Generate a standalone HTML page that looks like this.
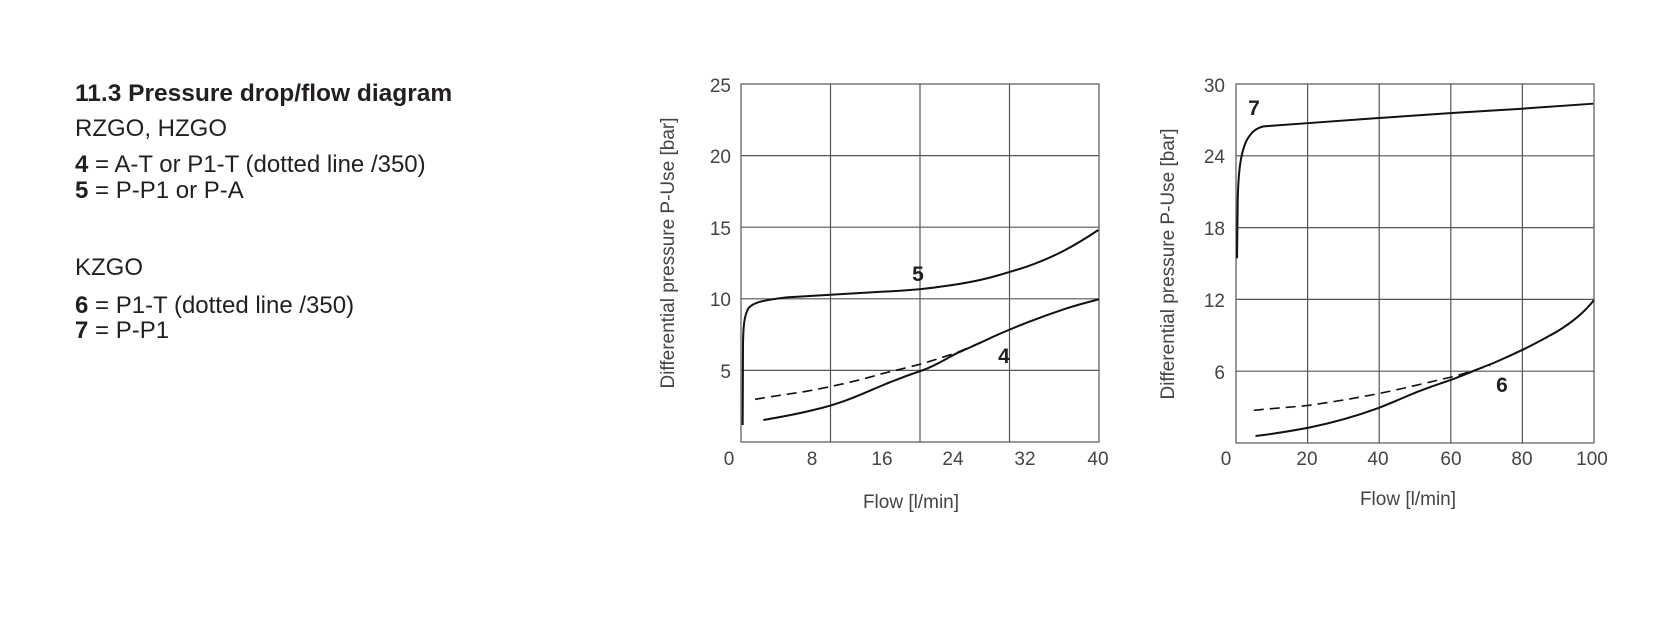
<!DOCTYPE html>
<html><head><meta charset="utf-8"><style>
html,body{margin:0;padding:0;background:#fff;}
body{width:1668px;height:635px;overflow:hidden;position:relative;font-family:"Liberation Sans",sans-serif;color:#231f20;}
.t{position:absolute;left:75px;font-size:24px;white-space:nowrap;line-height:1;}
</style></head><body>
<div class="t" style="top:82px;font-weight:bold;font-size:24.5px;">11.3 Pressure drop/flow diagram</div>
<div class="t" style="top:117px;">RZGO, HZGO</div>
<div class="t" style="top:153px;"><b>4</b> = A-T or P1-T (dotted line /350)</div>
<div class="t" style="top:179px;"><b>5</b> = P-P1 or P-A</div>
<div class="t" style="top:256px;">KZGO</div>
<div class="t" style="top:294px;"><b>6</b> = P1-T (dotted line /350)</div>
<div class="t" style="top:319px;"><b>7</b> = P-P1</div>
<svg width="1668" height="635" style="position:absolute;left:0;top:0" font-family="Liberation Sans, sans-serif">
<g stroke="#555" stroke-width="1.2" fill="none">
<rect x="741" y="84" width="358" height="358"/>
<path d="M830.5 84V442M920 84V442M1009.5 84V442M741 155.6H1099M741 227.2H1099M741 298.8H1099M741 370.4H1099"/>
<rect x="1236" y="84" width="358" height="359"/>
<path d="M1307.6 84V443M1379.2 84V443M1450.8 84V443M1522.4 84V443M1236 155.8H1594M1236 227.6H1594M1236 299.4H1594M1236 371.2H1594"/>
</g>
<g fill="#444" font-size="19" text-anchor="end">
<text x="731" y="92">25</text><text x="731" y="163">20</text><text x="731" y="235">15</text><text x="731" y="306">10</text><text x="731" y="378">5</text>
<text x="1225" y="92">30</text><text x="1225" y="163">24</text><text x="1225" y="235">18</text><text x="1225" y="307">12</text><text x="1225" y="379">6</text>
</g>
<g fill="#444" font-size="19" text-anchor="middle">
<text x="729" y="465">0</text><text x="812" y="465">8</text><text x="882" y="465">16</text><text x="953" y="465">24</text><text x="1025" y="465">32</text><text x="1098" y="465">40</text>
<text x="1226" y="465">0</text><text x="1307" y="465">20</text><text x="1378" y="465">40</text><text x="1451" y="465">60</text><text x="1522" y="465">80</text><text x="1592" y="465">100</text>
<text x="911" y="508">Flow [l/min]</text>
<text x="1408" y="505">Flow [l/min]</text>
<text transform="translate(674,253) rotate(-90)">Differential pressure P-Use [bar]</text>
<text transform="translate(1174,264) rotate(-90)">Differential pressure P-Use [bar]</text>
</g>
<g fill="#231f20" font-size="21" font-weight="bold" text-anchor="middle">
<text x="918" y="281">5</text><text x="1004" y="363">4</text><text x="1254" y="115">7</text><text x="1502" y="392">6</text>
</g>
<g transform="translate(600,60) scale(0.33333)" fill="none" stroke="#111" stroke-width="6">
<path d="M428 1095 L429 850 C430 800 432 770 445 745 C460 728 480 722 560 712 C640 707 760 700 850 695 C920 692 970 688 1070 673 C1140 662 1180 652 1280 620 C1360 592 1420 560 1495 510"/>
<path d="M490 1080 C560 1068 600 1060 640 1050 C730 1030 790 1000 850 975 C910 950 940 940 970 930 C1010 915 1040 895 1070 880 C1120 858 1150 845 1180 830 C1220 812 1250 800 1280 788 C1340 765 1370 755 1400 745 C1440 732 1470 725 1497 718"/>
<path d="M465 1018 C560 1002 600 998 640 990 C720 975 800 955 850 940 C900 928 940 918 970 910 C1010 898 1040 888 1070 878 C1110 862 1140 848 1170 835" stroke-dasharray="30,18" stroke-width="5"/>
</g>
<g transform="translate(1120.5,59.6) scale(0.3489,0.334)" fill="none" stroke="#111">
<path vector-effect="non-scaling-stroke" stroke-width="2" d="M334 595 L336 420 C338 330 345 280 360 245 C375 215 390 205 410 200 L540 190 L740 175 L950 160 L1150 147 L1355 132"/>
<path vector-effect="non-scaling-stroke" stroke-width="2" d="M387 1127 C460 1118 500 1110 540 1102 C620 1085 690 1062 740 1043 C790 1022 820 1008 850 995 C900 975 930 965 950 958 C980 946 995 940 1010 933 C1040 920 1055 914 1070 908 C1110 890 1130 880 1150 870 C1200 845 1220 832 1250 815 C1300 783 1330 755 1357 720"/>
<path vector-effect="non-scaling-stroke" stroke-width="1.6" stroke-dasharray="10,6" d="M382 1050 C460 1042 500 1040 540 1035 C640 1020 690 1010 740 1000 C840 978 900 962 950 950 C1000 936 1030 925 1060 915"/>
</g>
</svg>
</body></html>
